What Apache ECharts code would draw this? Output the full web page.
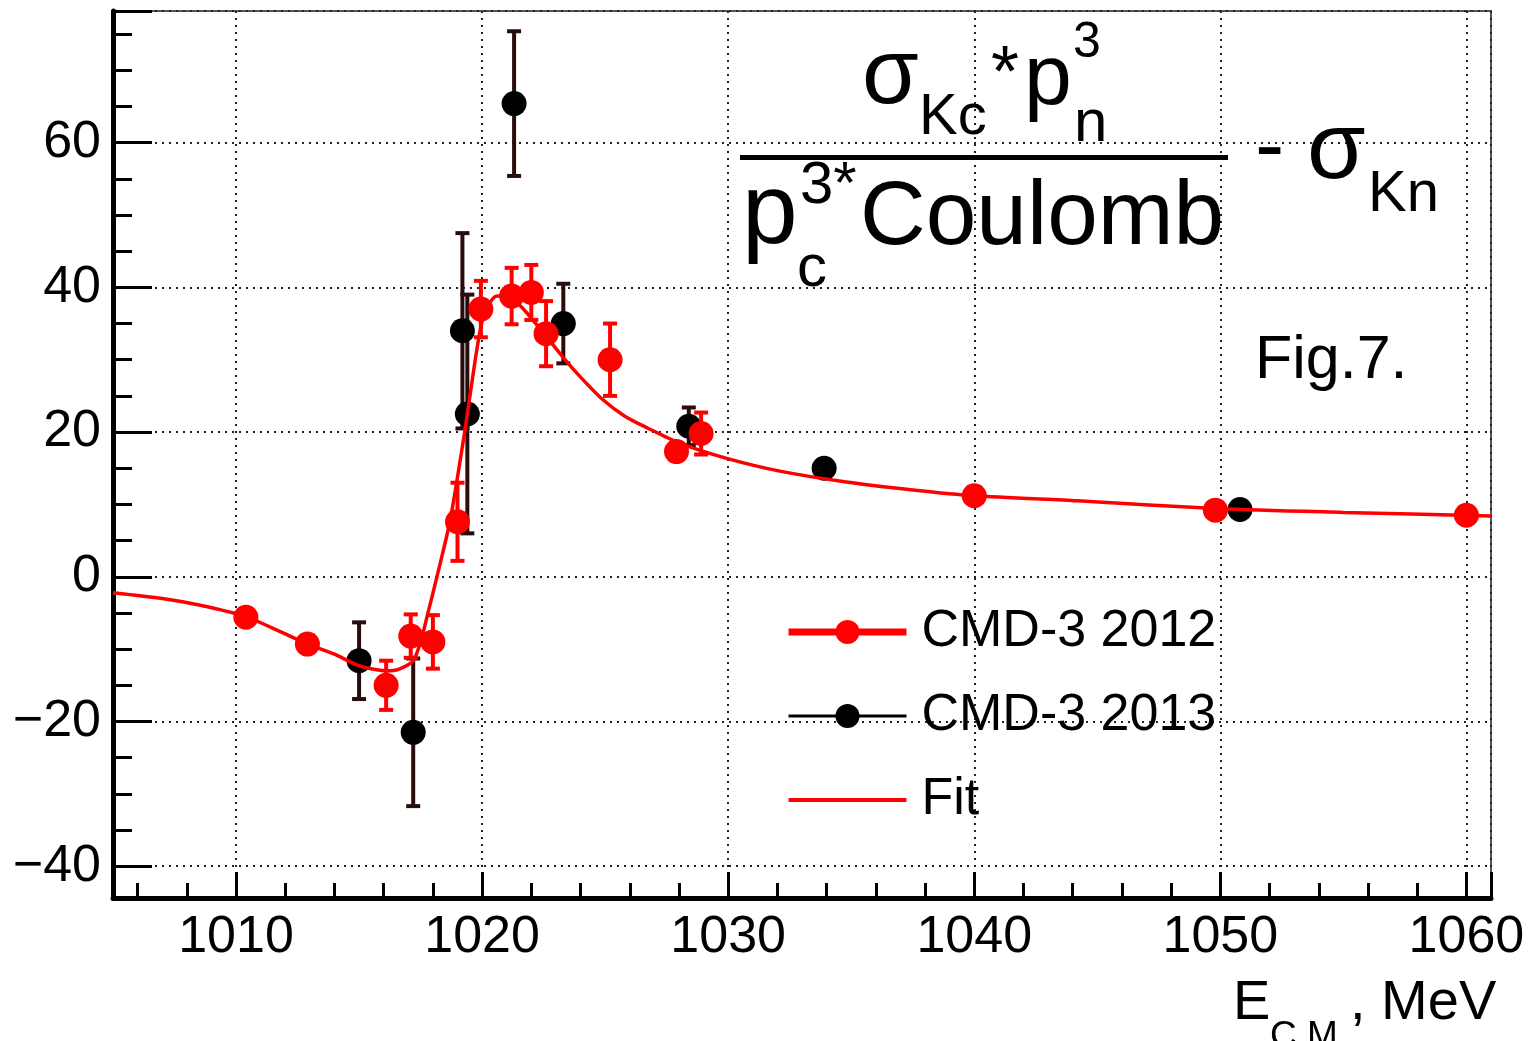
<!DOCTYPE html>
<html>
<head>
<meta charset="utf-8">
<script src="https://cdn.jsdelivr.net/npm/echarts@6/dist/echarts.min.js"></script>
<style>
html,body{margin:0;padding:0;background:#fff;}
#chart{width:1538px;height:1041px;}
</style>
</head>
<body>
<div id="chart"></div>
<script>
// CMD-3 2012 (red)
const x2012 = [1010.4, 1012.9, 1016.1, 1017.1, 1018.0, 1019.0, 1019.95, 1021.2, 1022.0, 1022.6, 1025.2, 1027.9, 1028.9, 1040.0, 1049.8, 1060.0];
const y2012 = [-5.6, -9.3, -15.0, -8.2, -9.0, 7.6, 37.0, 38.8, 39.3, 33.6, 30.0, 17.3, 19.8, 11.2, 9.2, 8.5];
const err2012 = [0.8, 0.8, 3.4, 3.0, 3.7, 5.4, 3.9, 3.9, 3.8, 4.5, 5.0, 1.2, 2.9, 0.8, 0.8, 0.6];
// CMD-3 2013 (black)
const x2013 = [1015.0, 1017.2, 1019.2, 1019.4, 1021.3, 1023.3, 1028.4, 1033.9, 1050.8];
const y2013 = [-11.6, -21.5, 34.0, 22.5, 65.4, 35.0, 20.8, 15.0, 9.3];
const err2013 = [5.3, 10.2, 13.5, 16.5, 10.0, 5.5, 2.6, 0.8, 0.6];
// Fit curve
const fitX = [1005, 1007, 1008.5, 1010.4, 1012, 1012.9, 1014, 1015, 1016.1, 1016.6, 1017.2, 1017.5, 1017.8, 1018.2, 1018.7, 1019.3, 1019.8, 1020.1, 1020.6, 1021.1, 1021.6, 1022.3, 1023.3, 1024.0, 1024.9, 1025.8, 1026.7, 1028.0, 1029.9, 1032.1, 1034.8, 1037.5, 1040, 1044.2, 1050, 1055, 1061];
const fitY = [-2.2, -3.0, -3.9, -5.5, -7.9, -9.3, -10.7, -12.3, -13.0, -12.8, -11.6, -9.0, -5.0, 0.5, 7.8, 20.2, 31.7, 36.5, 38.8, 38.6, 37.3, 34.5, 30.3, 27.6, 24.5, 22.2, 20.6, 18.5, 16.4, 14.6, 13.1, 12.0, 11.2, 10.5, 9.4, 8.9, 8.4];
// axis tick labels
const xTicks = [1010, 1020, 1030, 1040, 1050, 1060];
const yTicks = [-40, -20, 0, 20, 40, 60];

const FONT = '"Liberation Sans", Arial, Helvetica, sans-serif';
const pts2012 = x2012.map((x, i) => [x, y2012[i], err2012[i]]);
const pts2013 = x2013.map((x, i) => [x, y2013[i], err2013[i]]);
const fitData = fitX.map((x, i) => [x, fitY[i]]);

function errRender(color, lw, cap) {
  return function (params, api) {
    const x = api.value(0), y = api.value(1), e = api.value(2);
    const t = api.coord([x, y + e]);
    const b = api.coord([x, y - e]);
    const st = { stroke: color, lineWidth: lw };
    return {
      type: 'group',
      children: [
        { type: 'line', shape: { x1: t[0], y1: t[1], x2: b[0], y2: b[1] }, style: st },
        { type: 'line', shape: { x1: t[0] - cap, y1: t[1], x2: t[0] + cap, y2: t[1] }, style: st },
        { type: 'line', shape: { x1: b[0] - cap, y1: b[1], x2: b[0] + cap, y2: b[1] }, style: st }
      ]
    };
  };
}

function txt(text, x, y, size, align) {
  return {
    type: 'text', x: x, y: y, z: 50,
    style: { text: text, font: size + 'px ' + FONT, fill: '#000', align: align || 'left', verticalAlign: 'middle' }
  };
}

const chart = echarts.init(document.getElementById('chart'), null, { renderer: 'canvas' });
const gridLine = { show: true, lineStyle: { color: '#222', width: 2, type: [2, 5] } };

chart.setOption({
  backgroundColor: '#fff',
  animation: false,
  grid: { left: 113, right: 47, top: 11, bottom: 143, show: true, borderColor: '#555', borderWidth: 2, backgroundColor: 'transparent' },
  xAxis: {
    type: 'value', min: 1005, max: 1061, splitNumber: 5,
    axisLine: { show: true, onZero: false, lineStyle: { color: '#000', width: 5 } },
    axisTick: { show: true, inside: true, length: 26, lineStyle: { color: '#000', width: 3 } },
    minorTick: { show: true, splitNumber: 5, length: 15, lineStyle: { color: '#000', width: 3 } },
    splitLine: gridLine,
    axisLabel: {
      color: '#000', fontSize: 52, fontFamily: FONT, margin: 14,
      formatter: v => (xTicks.indexOf(Math.round(v * 1000) / 1000) >= 0 ? String(v) : '')
    }
  },
  yAxis: {
    type: 'value', min: -44.4, max: 78.2, splitNumber: 6,
    axisLine: { show: true, onZero: false, lineStyle: { color: '#000', width: 5 } },
    axisTick: { show: true, inside: true, length: 39, lineStyle: { color: '#000', width: 3 } },
    minorTick: { show: true, splitNumber: 4, length: 19, lineStyle: { color: '#000', width: 3 } },
    splitLine: gridLine,
    axisLabel: {
      color: '#000', fontSize: 52, fontFamily: FONT, margin: 12,
      formatter: v => (yTicks.indexOf(Math.round(v * 1000) / 1000) >= 0 ? String(v).replace('-', '\u2212') : '')
    }
  },
  legend: {
    orient: 'vertical', left: 780, top: 601,
    itemWidth: 118, itemHeight: 30, itemGap: 32,
    textStyle: { color: '#000', fontSize: 52, fontFamily: FONT, lineHeight: 52, padding: [0, 0, 0, 10] },
    data: [
      { name: 'CMD-3 2012', lineStyle: { opacity: 1, width: 7, color: '#ff0000' } },
      { name: 'CMD-3 2013', lineStyle: { opacity: 1, width: 3, color: '#000' } },
      { name: 'Fit', lineStyle: { opacity: 1, width: 4, color: '#ff0000' }, itemStyle: { opacity: 0 } }
    ]
  },
  series: [
    {
      name: 'err2013', type: 'custom', renderItem: errRender('#2a0c0c', 4, 7), data: pts2013,
      encode: { x: 0, y: 1 }, z: 2, silent: true
    },
    {
      name: 'CMD-3 2013', type: 'line', data: pts2013.map(p => [p[0], p[1]]),
      symbol: 'circle', symbolSize: 25, showSymbol: true,
      itemStyle: { color: '#000' }, lineStyle: { width: 3, opacity: 0, color: '#000' }, z: 3
    },
    {
      name: 'err2012', type: 'custom', renderItem: errRender('#ff0000', 4, 7), data: pts2012,
      encode: { x: 0, y: 1 }, z: 4, silent: true
    },
    {
      name: 'CMD-3 2012', type: 'line', data: pts2012.map(p => [p[0], p[1]]),
      symbol: 'circle', symbolSize: 25, showSymbol: true,
      itemStyle: { color: '#ff0000' }, lineStyle: { width: 7, opacity: 0, color: '#ff0000' }, z: 5
    },
    {
      name: 'Fit', type: 'line', data: fitData, symbol: 'none', smooth: 0.25,
      lineStyle: { color: '#ff0000', width: 3.5 }, itemStyle: { color: '#ff0000' }, z: 6
    }
  ],
  graphic: [
    // numerator
    txt('\u03c3', 862, 78, 92),
    txt('Kc', 919, 118, 58),
    txt('*', 991, 76, 72),
    txt('p', 1024, 80, 86),
    txt('3', 1073, 43, 50),
    txt('n', 1074, 124, 60),
    { type: 'rect', z: 50, shape: { x: 740, y: 155, width: 488, height: 5 }, style: { fill: '#000' } },
    // denominator
    txt('p', 742, 215, 100),
    txt('3*', 800, 186, 60),
    txt('c', 797, 269, 60),
    txt('Coulomb', 860, 219, 91),
    // minus sigma_Kn
    txt('-', 1255, 150, 88),
    txt('\u03c3', 1307, 152, 95),
    txt('Kn', 1368, 195, 58),
    // Fig label
    txt('Fig.7.', 1255, 361, 61),
    // x axis title
    txt('E', 1233, 1004, 56),
    txt('C.M.', 1270, 1037, 37),
    txt(', MeV', 1350, 1004, 56)
  ]
});
</script>
</body>
</html>
